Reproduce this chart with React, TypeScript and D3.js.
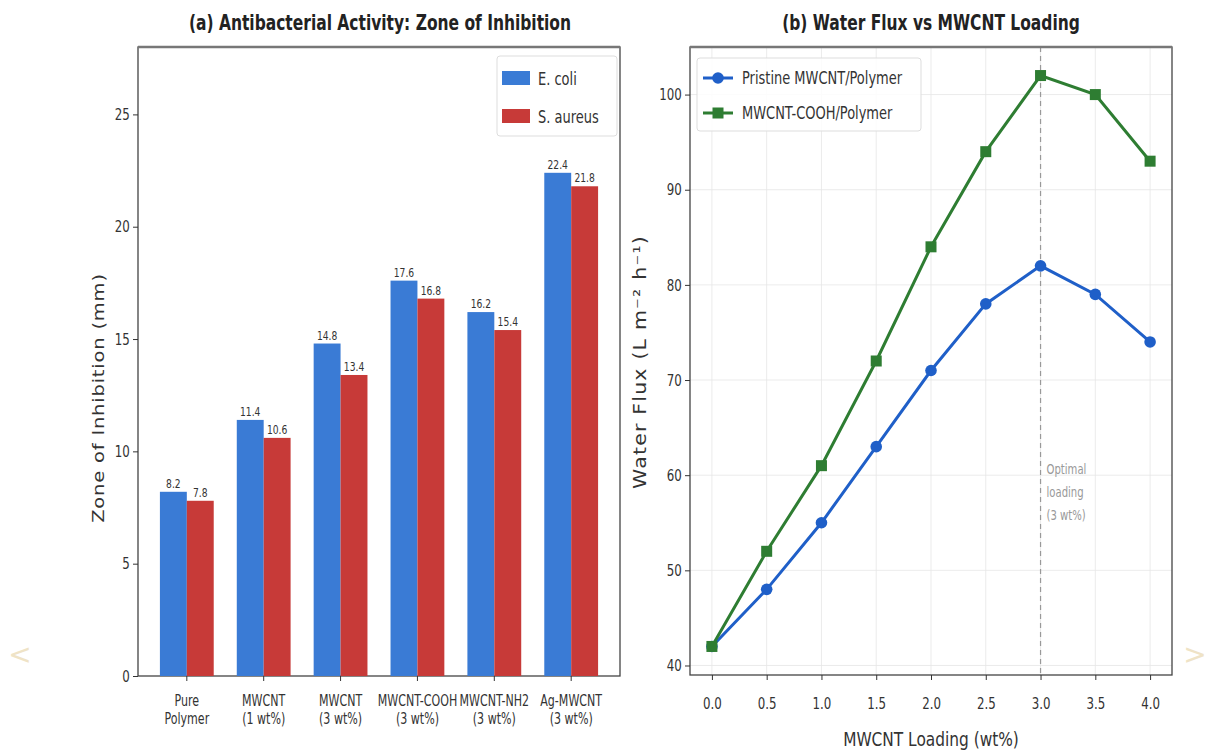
import React, { useEffect, useRef } from "react";
import * as d3 from "d3";

const categories = [
  ["Pure", "Polymer"],
  ["MWCNT", "(1 wt%)"],
  ["MWCNT", "(3 wt%)"],
  ["MWCNT-COOH", "(3 wt%)"],
  ["MWCNT-NH2", "(3 wt%)"],
  ["Ag-MWCNT", "(3 wt%)"],
];
const eColi = [8.2, 11.4, 14.8, 17.6, 16.2, 22.4];
const sAureus = [7.8, 10.6, 13.4, 16.8, 15.4, 21.8];

const loading = [0, 0.5, 1.0, 1.5, 2.0, 2.5, 3.0, 3.5, 4.0];
const pristine = [42, 48, 55, 63, 71, 78, 82, 79, 74];
const cooh = [42, 52, 61, 72, 84, 94, 102, 100, 93];

const barTicks = [0, 5, 10, 15, 20, 25];
const fluxTicks = [40, 50, 60, 70, 80, 90, 100];
const loadTicks = [0, 0.5, 1, 1.5, 2, 2.5, 3, 3.5, 4];

const FONT = "'DejaVu Sans Condensed', 'Liberation Sans Narrow', 'DejaVu Sans', sans-serif";
const BLUE = "#3a7bd5";
const RED = "#c73a38";
const LBLUE = "#1f5fc8";
const GREEN = "#2e7d32";

// squeezed text, the reference is narrower than the font
const ST = ({ x, y, sx = 0.85, size = 14, anchor = "start", weight = "normal", fill = "#333", children }: any) => (
  <text
    transform={`translate(${x},${y}) scale(${sx},1)`}
    textAnchor={anchor}
    fontSize={size}
    fontWeight={weight}
    fontFamily={FONT}
    fill={fill}
  >
    {children}
  </text>
);

const Axis = ({ scale, orient, transform, ticks, fmt, pad }: any) => {
  const ref = useRef<SVGGElement>(null);
  useEffect(() => {
    const gen = orient === "bottom" ? d3.axisBottom(scale) : d3.axisLeft(scale);
    gen.tickValues(ticks).tickSize(5).tickPadding(pad || 5);
    if (fmt) gen.tickFormat(fmt);
    const g = d3.select(ref.current).call(gen as any);
    g.select(".domain").remove();
    g.selectAll(".tick line").attr("stroke", "#333");
    g.selectAll(".tick text")
      .attr("font-family", FONT)
      .attr("font-size", 16)
      .attr("transform", "scale(0.82,1)")
      .attr("fill", "#333");
  }, [scale, orient]);
  return <g ref={ref} transform={transform} />;
};

const BarPanel = () => {
  const x = d3.scaleLinear().domain([-0.635, 5.635]).range([138, 620]);
  const y = d3.scaleLinear().domain([0, 28]).range([676, 47]);
  const w = x(0.35) - x(0);
  return (
    <g>
      <rect x={138} y={47} width={482} height={629} fill="none" stroke="#444" strokeWidth={1.3} />
      <line x1={138} x2={620} y1={47} y2={47} stroke="#777" strokeWidth={2.5} />
      {eColi.map((v, i) => (
        <g key={"e" + i}>
          <rect x={x(i - 0.35)} y={y(v)} width={w} height={y(0) - y(v)} fill={BLUE} />
          <ST x={x(i - 0.175)} y={y(v) - 4} anchor="middle" size={12} sx={0.85}>
            {v.toFixed(1)}
          </ST>
        </g>
      ))}
      {sAureus.map((v, i) => (
        <g key={"s" + i}>
          <rect x={x(i)} y={y(v)} width={w} height={y(0) - y(v)} fill={RED} />
          <ST x={x(i + 0.175)} y={y(v) - 4} anchor="middle" size={12} sx={0.85}>
            {v.toFixed(1)}
          </ST>
        </g>
      ))}
      <Axis scale={y} orient="left" transform="translate(138,0)" ticks={barTicks} />
      {categories.map((c, i) => (
        <g key={"c" + i}>
          <line x1={x(i)} x2={x(i)} y1={676} y2={681} stroke="#333" />
          <ST x={x(i)} y={706} anchor="middle" size={15} sx={0.82}>{c[0]}</ST>
          <ST x={x(i)} y={724} anchor="middle" size={15} sx={0.82}>{c[1]}</ST>
        </g>
      ))}
      <text transform="translate(104,398) rotate(-90) scale(1,0.82)" textAnchor="middle" fontSize={19.5} fontFamily="'DejaVu Sans', sans-serif" fill="#333" letterSpacing={0.8}>
        Zone of Inhibition (mm)
      </text>
      <ST x={380} y={30} anchor="middle" size={21} weight="bold" sx={0.82} fill="#222">
        (a) Antibacterial Activity: Zone of Inhibition
      </ST>
      <rect x={497} y={56} width={120} height={80} rx={3} fill="#fff" stroke="#ddd" />
      <rect x={502} y={71} width={28} height={14} fill={BLUE} />
      <ST x={538} y={85} size={17} sx={0.85}>E. coli</ST>
      <rect x={502} y={109} width={28} height={14} fill={RED} />
      <ST x={538} y={123} size={17} sx={0.85}>S. aureus</ST>
    </g>
  );
};

const LinePanel = () => {
  const x = d3.scaleLinear().domain([-0.2, 4.2]).range([690, 1172]);
  const y = d3.scaleLinear().domain([39, 105]).range([675, 47]);
  const line = d3.line<number>().x((_, i) => x(loading[i])).y((d) => y(d));
  return (
    <g>
      {loadTicks.map((t) => (
        <line key={"gx" + t} x1={x(t)} x2={x(t)} y1={47} y2={675} stroke="#e6e6e6" strokeWidth={0.8} />
      ))}
      {fluxTicks.map((t) => (
        <line key={"gy" + t} x1={690} x2={1172} y1={y(t)} y2={y(t)} stroke="#e6e6e6" strokeWidth={0.8} />
      ))}
      <line x1={x(3)} x2={x(3)} y1={47} y2={675} stroke="#999" strokeDasharray="5,4" strokeWidth={1.2} />
      <ST x={x(3) + 6} y={474} size={14} sx={0.8} fill="#999">Optimal</ST>
      <ST x={x(3) + 6} y={497} size={14} sx={0.8} fill="#999">loading</ST>
      <ST x={x(3) + 6} y={520} size={14} sx={0.8} fill="#999">(3 wt%)</ST>
      <path d={line(pristine) || ""} fill="none" stroke={LBLUE} strokeWidth={3} />
      <path d={line(cooh) || ""} fill="none" stroke={GREEN} strokeWidth={3} />
      {pristine.map((v, i) => (
        <circle key={"p" + i} cx={x(loading[i])} cy={y(v)} r={5.8} fill={LBLUE} />
      ))}
      {cooh.map((v, i) => (
        <rect key={"q" + i} x={x(loading[i]) - 5.5} y={y(v) - 5.5} width={11} height={11} fill={GREEN} />
      ))}
      <rect x={690} y={47} width={482} height={628} fill="none" stroke="#444" strokeWidth={1.3} />
      <line x1={690} x2={1172} y1={47} y2={47} stroke="#777" strokeWidth={2.5} />
      <Axis scale={y} orient="left" transform="translate(690,0)" ticks={fluxTicks} />
      <Axis scale={x} orient="bottom" transform="translate(0,675)" ticks={loadTicks} fmt={(d: number) => d.toFixed(1)} pad={18} />
      <ST x={931} y={746} anchor="middle" size={19} sx={0.9}>
        MWCNT Loading (wt%)
      </ST>
      <text transform="translate(646,362) rotate(-90) scale(1,0.82)" textAnchor="middle" fontSize={20.5} fontFamily="'DejaVu Sans', sans-serif" fill="#333" letterSpacing={1.2}>
        Water Flux (L m⁻² h⁻¹)
      </text>
      <ST x={931} y={30} anchor="middle" size={21} weight="bold" sx={0.82} fill="#222">
        (b) Water Flux vs MWCNT Loading
      </ST>
      <rect x={697} y={58} width={224} height={73} rx={3} fill="#fff" fillOpacity={0.85} stroke="#ddd" />
      <line x1={703} x2={733} y1={78} y2={78} stroke={LBLUE} strokeWidth={3} />
      <circle cx={718} cy={78} r={5.8} fill={LBLUE} />
      <ST x={742} y={84} size={17} sx={0.85}>Pristine MWCNT/Polymer</ST>
      <line x1={703} x2={733} y1={113} y2={113} stroke={GREEN} strokeWidth={3} />
      <rect x={712.5} y={107.5} width={11} height={11} fill={GREEN} />
      <ST x={742} y={119} size={17} sx={0.85}>MWCNT-COOH/Polymer</ST>
    </g>
  );
};

export default function App() {
  return (
    <svg width={1206} height={751} style={{ position: "absolute", left: 0, top: 0, background: "#fff" }}>
      <rect width={1206} height={751} fill="#fff" />
      <BarPanel />
      <LinePanel />
      <text x={20} y={664} textAnchor="middle" fontSize={28} fontFamily="'DejaVu Sans', sans-serif" fill="#efe3c6">&lt;</text>
      <text x={1195} y={664} textAnchor="middle" fontSize={28} fontFamily="'DejaVu Sans', sans-serif" fill="#efe3c6">&gt;</text>
    </svg>
  );
}
